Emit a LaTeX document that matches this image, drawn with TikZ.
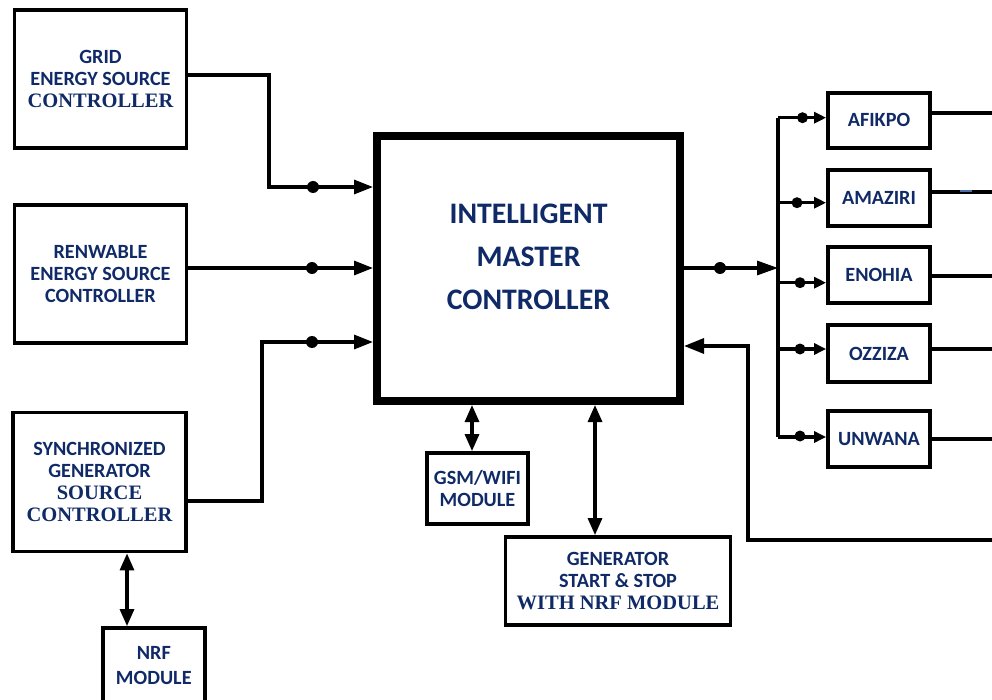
\documentclass[tikz,border=0pt]{standalone}
\usepackage{fontspec}
\setmainfont{Carlito}
\newfontfamily\calfont{Carlito}
\newfontfamily\tmsfont{Liberation Serif}
\usetikzlibrary{arrows.meta}
\definecolor{navy}{HTML}{0F2A66}
\definecolor{dashblue}{HTML}{4A6EA9}
\newcommand{\tms}[1]{{\tmsfont\bfseries\fontsize{20.5}{22}\selectfont #1}}
\begin{document}
\begin{tikzpicture}[x=1pt,y=-1pt,
  box/.style={draw, line width=3.8pt, fill=white, inner sep=0pt, align=center,
    text=navy, font=\calfont\bfseries\fontsize{20.2}{22}\selectfont},
  master/.style={draw, line width=8pt, fill=white, inner sep=0pt},
  conn/.style={line width=3.2pt},
  dot/.style={circle, fill, inner sep=0pt, minimum size=12pt},
  sdot/.style={circle, fill, inner sep=0pt, minimum size=11pt},
  bigtip/.style={-{Triangle[length=19pt,width=14pt]}},
  smalltip/.style={-{Triangle[length=12pt,width=11pt]}},
  both/.style={{Triangle[length=17pt,width=14pt]}-{Triangle[length=17pt,width=14pt]}}]
\useasboundingbox (0,0) rectangle (992,700);

% source controllers
\node[box, minimum width=172pt, minimum height=138pt] (grid) at (100.5,79)
  {GRID\\ENERGY SOURCE\\\tms{CONTROLLER}};
\node[box, minimum width=172pt, minimum height=138pt] (ren) at (100.5,274)
  {RENWABLE\\ENERGY SOURCE\\CONTROLLER};
\node[box, minimum width=173pt, minimum height=139pt] (sync) at (99.5,482)
  {SYNCHRONIZED\\GENERATOR\\\tms{SOURCE}\\\tms{CONTROLLER}};
\node[box, minimum width=102pt, minimum height=76pt] (nrf) at (153.8,666)
  {NRF\\[3pt]MODULE};

% master controller
\node[master, minimum width=303pt, minimum height=265pt] (master) at (528.5,268.5) {};
\node[text=navy, align=center, inner sep=0pt,
  font=\calfont\bfseries\fontsize{29.8}{43}\selectfont] (mastertxt) at (528.5,257)
  {INTELLIGENT\\MASTER\\CONTROLLER};

% modules under the master
\node[box, minimum width=101pt, minimum height=71pt] (gsm) at (477.5,488.5)
  {GSM/WIFI\\MODULE};
\node[box, minimum width=225pt, minimum height=88pt] (gen) at (618,581)
  {GENERATOR\\START \& STOP\\\tms{WITH NRF MODULE}};

% feeders
\node[box, minimum width=102pt, minimum height=55pt] (afikpo) at (879,120.3) {AFIKPO};
\node[box, minimum width=102pt, minimum height=56pt] (amaziri) at (879,198) {AMAZIRI};
\node[box, minimum width=102pt, minimum height=56pt] (enohia) at (879,275) {ENOHIA};
\node[box, minimum width=102pt, minimum height=57pt] (ozziza) at (879,353.5) {OZZIZA};
\node[box, minimum width=102pt, minimum height=56pt] (unwana) at (879,439) {UNWANA};

% junction points
\coordinate (bustop) at (778,117.7);
\coordinate (busbot) at (778,437);
\coordinate (busin) at (778,268);
\coordinate (fbcorner) at (748,540);
\coordinate (fbend) at (1000,540);

% inputs to the master
\draw[conn, bigtip] ([yshift=4pt]grid.east) -| (269,187) -- (master.west |- 0,187);
\draw[conn, bigtip] ([yshift=6pt]ren.east) -- (master.west |- 0,268);
\draw[conn, bigtip] ([yshift=-19pt]sync.east) -| (262,342) -- (master.west |- 0,342);
\node[dot] (d1) at (313,187) {};
\node[dot] (d2) at (312,268) {};
\node[dot] (d3) at (312,342) {};

% master to feeder bus
\draw[conn, -{Triangle[length=21pt,width=14pt]}] (master.east |- busin) -- (busin);
\node[dot] (d4) at (720,268) {};
\draw[conn] (bustop) -- (busbot);

% bus branches
\draw[conn, smalltip] (bustop) -- (afikpo.west |- bustop);
\draw[conn, smalltip] (778,202.7) -- (amaziri.west |- 0,202.7);
\draw[conn, smalltip] (778,282.7) -- (enohia.west |- 0,282.7);
\draw[conn, smalltip] (778,349) -- (ozziza.west |- 0,349);
\draw[conn, smalltip] (busbot) -- (unwana.west |- busbot);
\node[sdot] (b1) at (802.5,117.7) {};
\node[sdot] (b2) at (797,202.7) {};
\node[sdot] (b3) at (800,282.7) {};
\node[sdot] (b4) at (800,349) {};
\node[sdot] (b5) at (800,436) {};

% feeder outputs
\draw[conn] (afikpo.east |- 0,113) -- (1000,113);
\draw[conn] (amaziri.east |- 0,192) -- (1000,192);
\draw[conn] (enohia.east |- 0,276) -- (1000,276);
\draw[conn] (ozziza.east |- 0,349) -- (1000,349);
\draw[conn] (unwana.east |- 0,439) -- (1000,439);
\draw[line width=1.5pt, dashblue] (960,191) -- (972,191);

% feedback into the master
\draw[conn, -{Triangle[length=20pt,width=15pt]}] (fbend) -- (fbcorner) -- (748,346) -- (master.east |- 0,346);

% two-way links
\draw[conn, both] (master.south -| 472,0) -- (gsm.north -| 472,0);
\draw[conn, both] (master.south -| 595,0) -- (gen.north -| 595,0);
\draw[conn, both] (sync.south -| 127,0) -- (nrf.north -| 127,0);
\end{tikzpicture}
\end{document}
